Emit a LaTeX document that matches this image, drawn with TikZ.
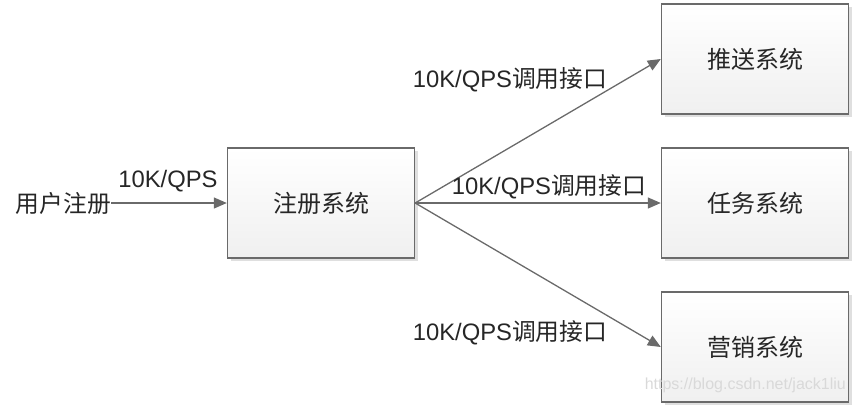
\documentclass[tikz,border=0pt]{standalone}
\usepackage{fontspec}
\setmainfont{Liberation Sans}
\newfontfamily\cjk{Noto Sans CJK SC}
\usepackage{tikz}
\usetikzlibrary{arrows.meta,shadows,calc}
\definecolor{edge}{HTML}{6A6A6A}

\begin{document}
\begin{tikzpicture}[x=1pt,y=-1pt,
    sys/.style={draw=edge,line width=1.4pt,top color=white,bottom color=gray!12,
      minimum width=187pt,minimum height=110pt,inner sep=0pt,
      drop shadow={shadow xshift=3pt,shadow yshift=-3pt,fill=gray!25,opacity=1},
      font=\fontsize{24}{27}\selectfont\cjk,text=black!85},
    lbl/.style={inner sep=0pt,font=\fontsize{23.8}{27}\selectfont,text=black!85},
    flow/.style={draw=edge,line width=1.3pt,-{Triangle[length=13pt,width=11pt]}}]
    \useasboundingbox (0,0) rectangle (856,410);

    \node [sys] (reg) at (321,203) { 注册系统 };
    \node [sys] (push) at (755,59) { 推送系统 };
    \node [sys] (task) at (755,203) { 任务系统 };
    \node [sys] (mkt) at (755,347) { 营销系统 };
    \node [lbl,anchor=east] (user) at (111,203) {\cjk 用户注册};

    \draw [flow] (user) -- (reg);
    \draw [flow] (reg.east) -- (push.west);
    \draw [flow] (reg.east) -- (task.west);
    \draw [flow] (reg.east) -- (mkt.west);

    \node [lbl] (qin) at (168,181) { 10K/QPS };
    \node [lbl] (qpush) at (510,80) { 10K/QPS{\cjk 调用接口} };
    \node [lbl] (qtask) at (549,187) { 10K/QPS{\cjk 调用接口} };
    \node [lbl] (qmkt) at (510,333) { 10K/QPS{\cjk 调用接口} };

    \node [inner sep=0pt,anchor=east,text=gray!30,font=\fontsize{16}{18}\selectfont] (mark) at (846,385) {https://blog.csdn.net/jack1liu};
\end{tikzpicture}
\end{document}
